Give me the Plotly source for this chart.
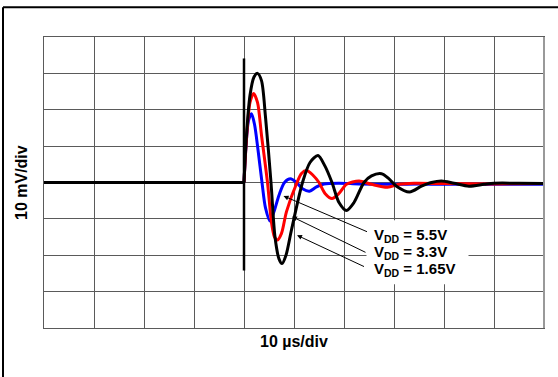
import plotly.graph_objects as go

# ---- data (time in divisions, amplitude in divisions) ----
baseline_t = [0, 4.0]
baseline_v = [0, 0]

black_t = [4.0, 4.05, 4.12, 4.2, 4.27, 4.35, 4.43, 4.54, 4.62, 4.7, 4.76, 4.84, 4.95, 5.17,
           5.32, 5.48, 5.62, 5.76, 5.9, 6.05, 6.2, 6.4, 6.55, 6.75, 6.9, 7.05, 7.31, 7.55,
           7.75, 7.95, 8.2, 8.5, 8.8, 9.0, 9.5, 10]
black_v = [0, 1.3, 2.4, 2.9, 3.0, 2.8, 1.8, 0, -1.5, -2.1, -2.23, -2.0, -1.3, 0,
           0.55, 0.74, 0.45, 0, -0.55, -0.77, -0.55, 0, 0.18, 0.24, 0.1, -0.1, -0.26, -0.1,
           0, 0.04, -0.02, -0.1, -0.05, -0.02, -0.02, -0.03]

red_t = [4.0, 4.05, 4.12, 4.19, 4.27, 4.35, 4.47, 4.55, 4.61, 4.67, 4.75, 4.85, 5.06, 5.15,
         5.25, 5.38, 5.5, 5.62, 5.76, 5.9, 6.05, 6.3, 6.55, 6.87, 7.1, 7.4, 8.0, 9.0, 10]
red_v = [0, 1.2, 2.2, 2.45, 2.2, 1.3, 0, -1.1, -1.5, -1.58, -1.4, -0.8, 0, 0.25,
         0.33, 0.2, 0, -0.3, -0.44, -0.3, -0.05, 0.04, -0.05, -0.13, -0.05, -0.02, -0.03, -0.04, -0.03]

blue_t = [4.0, 4.04, 4.09, 4.15, 4.21, 4.28, 4.36, 4.43, 4.52, 4.6, 4.7, 4.81, 4.93, 5.05,
          5.18, 5.31, 5.45, 5.6, 5.9, 6.3, 7.0, 7.5, 8.0, 10]
blue_v = [0, 1.0, 1.7, 1.89, 1.6, 0.9, 0, -0.7, -1.06, -0.8, -0.35, 0, 0.1, 0.0,
          -0.18, -0.24, -0.12, -0.04, -0.02, -0.04, -0.05, -0.04, -0.05, -0.05]

spike_t = [4.0, 4.0]
spike_v = [3.41, -2.42]

labels = ["V<sub>DD</sub> = 5.5V", "V<sub>DD</sub> = 3.3V", "V<sub>DD</sub> = 1.65V"]
label_y = [-1.46, -1.92, -2.38]
arrow_head_t = [4.79, 4.96, 5.06]
arrow_head_v = [-0.37, -0.94, -1.45]
arrow_tail_t = [6.49, 6.46, 6.43]
arrow_tail_v = [-1.37, -1.94, -2.33]

FONT = "Liberation Sans, Arial, sans-serif"

fig = go.Figure()
fig.add_trace(go.Scatter(x=blue_t, y=blue_v, mode="lines",
                         line=dict(color="#0000ff", width=3, shape="spline", smoothing=0.8)))
fig.add_trace(go.Scatter(x=red_t, y=red_v, mode="lines",
                         line=dict(color="#ff0000", width=3, shape="spline", smoothing=0.8)))
fig.add_trace(go.Scatter(x=baseline_t, y=baseline_v, mode="lines",
                         line=dict(color="#000000", width=3)))
fig.add_trace(go.Scatter(x=black_t, y=black_v, mode="lines",
                         line=dict(color="#000000", width=3, shape="spline", smoothing=0.8)))
fig.add_trace(go.Scatter(x=spike_t, y=spike_v, mode="lines",
                         line=dict(color="#000000", width=2.5)))

grid = "#5a5a5a"
fig.update_xaxes(range=[0, 10], dtick=1, tick0=0, showgrid=True, gridcolor=grid, gridwidth=1,
                 showticklabels=False, ticks="", zeroline=False,
                 showline=True, linecolor=grid, linewidth=1, mirror=True)
fig.update_yaxes(range=[-4, 4], dtick=1, tick0=0, showgrid=True, gridcolor=grid, gridwidth=1,
                 showticklabels=False, ticks="", zeroline=False,
                 showline=True, linecolor=grid, linewidth=1, mirror=True)

shapes = [
    # white box behind the labels
    dict(type="rect", xref="x", yref="y", x0=6.45, x1=8.49, y0=-2.80, y1=-1.04,
         fillcolor="white", line=dict(width=0), layer="between"),
    # lighter, thicker right edge of the graticule
    dict(type="line", xref="paper", yref="paper", x0=1.0, x1=1.0, y0=0, y1=1,
         line=dict(color="#999999", width=2)),
    # outer frame (top and left)
    dict(type="line", xref="paper", yref="paper", x0=-0.082, x1=1.05, y0=1.1024, y1=1.1024,
         line=dict(color="black", width=2)),
    dict(type="line", xref="paper", yref="paper", x0=-0.082, x1=-0.082, y0=1.1024, y1=-0.2,
         line=dict(color="black", width=2)),
]

annotations = [
    dict(text="<b>10 mV/div</b>", xref="paper", yref="paper", x=-0.045, y=0.5,
         textangle=-90, showarrow=False, xanchor="center", yanchor="middle",
         font=dict(family=FONT, size=16, color="black")),
    dict(text="<b>10 µs/div</b>", xref="paper", yref="paper", x=0.5, y=-0.045,
         showarrow=False, xanchor="center", yanchor="middle",
         font=dict(family=FONT, size=16, color="black")),
]
for lab, ly in zip(labels, label_y):
    annotations.append(dict(text="<b>" + lab + "</b>", xref="x", yref="y", x=6.56, y=ly,
                            showarrow=False, xanchor="left", yanchor="middle",
                            font=dict(family=FONT, size=15, color="black")))
for ht, hv, tt, tv in zip(arrow_head_t, arrow_head_v, arrow_tail_t, arrow_tail_v):
    annotations.append(dict(text="", x=ht, y=hv, ax=tt, ay=tv, xref="x", yref="y",
                            axref="x", ayref="y", showarrow=True, arrowhead=2,
                            arrowsize=1, arrowwidth=1, arrowcolor="black"))

fig.update_layout(width=558, height=377, margin=dict(l=44, r=14, t=37, b=49),
                  paper_bgcolor="white", plot_bgcolor="white", showlegend=False,
                  shapes=shapes, annotations=annotations)

fig.write_html("out.html", config={"displayModeBar": False},
               post_script="document.body.style.margin='0';document.body.style.overflow='hidden';")
